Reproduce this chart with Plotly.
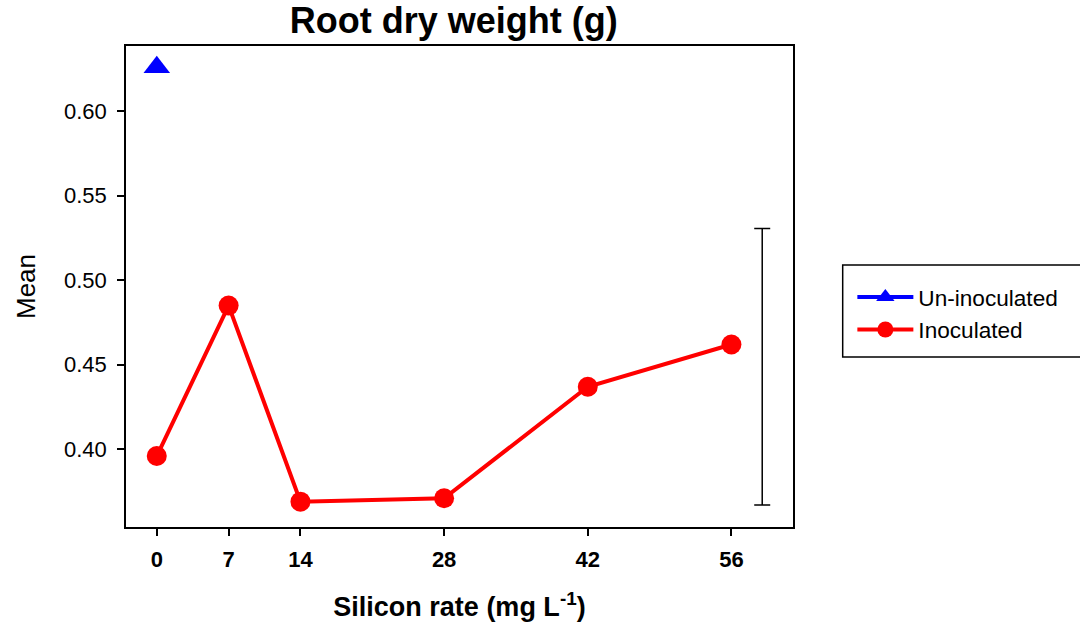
import plotly.graph_objects as go

# Silicon rate treatments (mg L-1)
silicon_rate = [0, 7, 14, 28, 42, 56]
x_ticks = [0, 7, 14, 28, 42, 56]
y_ticks = [0.40, 0.45, 0.50, 0.55, 0.60]

# Mean root dry weight (g)
uninoculated_x = [0]
uninoculated_mean = [0.626]
inoculated_mean = [0.396, 0.485, 0.369, 0.371, 0.437, 0.462]

# LSD bar drawn to the right of the last treatment
lsd_x = [59]
lsd_center = [0.4488]
lsd_half = [0.0818]

FONT = "Liberation Sans, Arial, sans-serif"

fig = go.Figure()

fig.add_trace(go.Scatter(
    x=uninoculated_x, y=uninoculated_mean, name="Un-inoculated",
    mode="lines+markers",
    line=dict(color="#0000ff", width=4),
    marker=dict(symbol="triangle-up", size=23, color="#0000ff"),
))

fig.add_trace(go.Scatter(
    x=silicon_rate, y=inoculated_mean, name="Inoculated",
    mode="lines+markers",
    line=dict(color="#ff0000", width=4),
    marker=dict(symbol="circle", size=20, color="#ff0000"),
))

fig.add_trace(go.Scatter(
    x=lsd_x, y=lsd_center, mode="markers", showlegend=False,
    marker=dict(size=1, color="rgba(0,0,0,0)"),
    error_y=dict(type="data", array=lsd_half, visible=True,
                 color="black", thickness=1.5, width=8),
    hoverinfo="skip",
))

# Legend frame, extending past the right edge of the page
fig.add_shape(type="rect", xref="paper", yref="paper",
              x0=1.0745, x1=1.45, y0=(527 - 357) / 481, y1=(527 - 265) / 481,
              line=dict(color="black", width=1.5), fillcolor="rgba(0,0,0,0)",
              layer="above")

fig.update_layout(
    width=1080, height=629,
    paper_bgcolor="white", plot_bgcolor="white",
    margin=dict(l=126, r=287, t=46, b=102),
    font=dict(family=FONT, color="black", size=21),
    title=dict(text="<b>Root dry weight (g)</b>", xref="paper", x=0.4915,
               xanchor="center", y=0.968, yanchor="middle",
               font=dict(size=36, family=FONT, color="black")),
    legend=dict(x=1.089, y=0.522, xanchor="left", yanchor="top",
                borderwidth=0, bgcolor="rgba(0,0,0,0)",
                font=dict(size=22.6, family=FONT), itemwidth=56,
                tracegroupgap=0),
    showlegend=True,
)

fig.update_xaxes(
    range=[-3, 62], tickvals=x_ticks, ticktext=[f"<b>{v}</b>" for v in x_ticks],
    showgrid=False, zeroline=False,
    showline=True, linecolor="black", linewidth=1.5, mirror=True,
    ticks="outside", ticklen=7, tickwidth=1.5, tickcolor="black",
    tickfont=dict(size=22, family=FONT), ticklabelstandoff=5,
    title=dict(text="<b>Silicon rate (mg L<sup>-1</sup>)</b>",
               font=dict(size=27, family=FONT), standoff=26),
)

fig.update_yaxes(
    range=[0.354, 0.6386], tickvals=y_ticks, tickformat=".2f",
    showgrid=False, zeroline=False,
    showline=True, linecolor="black", linewidth=1.5, mirror=True,
    ticks="outside", ticklen=7, tickwidth=1.5, tickcolor="black",
    tickfont=dict(size=22, family=FONT), ticklabelstandoff=6,
    title=dict(text="Mean", font=dict(size=26, family=FONT), standoff=21),
)

fig.write_html("out.html")
